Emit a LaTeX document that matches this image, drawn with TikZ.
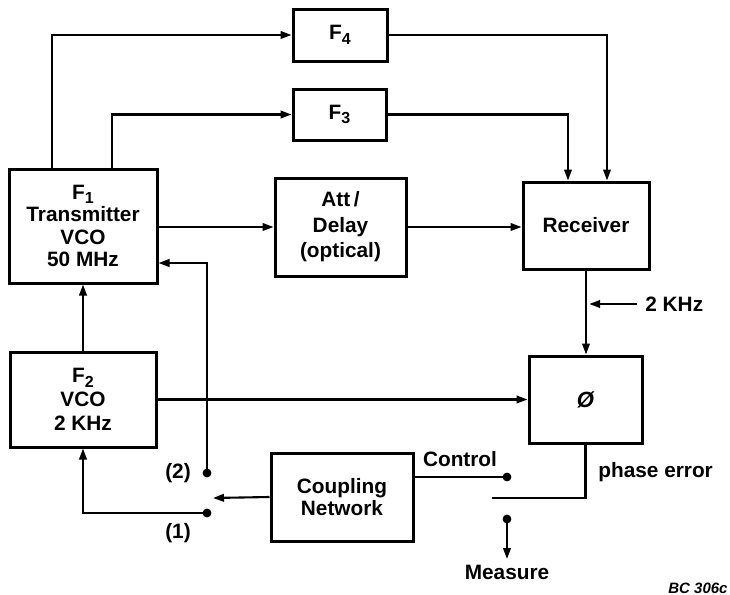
\documentclass[tikz,border=0pt]{standalone}
\usepackage{fontspec}
\setmainfont{Liberation Sans}
\usetikzlibrary{arrows.meta}
\newcommand{\sbs}[1]{\raisebox{-0.4ex}{\fontsize{8}{8}\selectfont #1}}
\begin{document}
\begin{tikzpicture}[x=0.5pt,y=-0.5pt,
  blk/.style={draw, line width=1.5pt, rectangle, align=center, inner sep=0pt,
    font=\fontsize{10.4}{11.2}\selectfont\bfseries},
  conn/.style={line width=1.05pt},
  arr/.style={conn, -{Triangle[length=5.5pt,width=3.8pt]}},
  lbl/.style={font=\fontsize{10.4}{11.2}\selectfont\bfseries, inner sep=0pt},
  dot/.style={fill, radius=2.2pt}]
\useasboundingbox (0,0) rectangle (730,595);

% blocks
\node[blk, minimum width=74pt, minimum height=57pt] (F1) at (83,226)
  {F\sbs{1}\\Transmitter\\VCO\\50 MHz};
\node[blk, minimum width=65.5pt, minimum height=49pt,
  font=\fontsize{10.4}{12.7}\selectfont\bfseries] (Att) at (340.5,227)
  {Att\,/\\Delay\\(optical)};
\node[blk, minimum width=63pt, minimum height=43.5pt] (Rec) at (586,225.5) {Receiver};
\node[blk, minimum width=56.5pt, minimum height=43.5pt] (Phi) at (585.5,399.5)
  {\fontsize{11}{11}\selectfont\itshape Ø};
\node[blk, minimum width=47pt, minimum height=26pt] (F4) at (340,35) {F\sbs{4}};
\node[blk, minimum width=46.5pt, minimum height=25.5pt] (F3) at (339.5,114.5) {F\sbs{3}};
\node[blk, minimum width=73pt, minimum height=47.5pt,
  font=\fontsize{10.4}{12}\selectfont\bfseries] (F2) at (83,399.5)
  {F\sbs{2}\\VCO\\2 KHz};
\node[blk, minimum width=71pt, minimum height=44pt] (Cpl) at (342,497)
  {Coupling\\Network};

% helper coordinates
\coordinate (xa) at (52,0);
\coordinate (xb) at (112,0);
\coordinate (xc) at (568,0);
\coordinate (xd) at (607,0);
\coordinate (yf) at (0,263);
\coordinate (s2) at (207,473);
\coordinate (s1) at (207,513);
\coordinate (sc) at (213,498);
\coordinate (ctl) at (507,477);
\coordinate (arm) at (492,498);
\coordinate (ms) at (507,519);
\coordinate (mend) at (507,559);
\coordinate (k2) at (637,304);

% connectors
\draw[arr] (F1.north -| xa) |- (F4.west);
\draw[arr] (F1.north -| xb) |- (F3.west);
\draw[arr] (F4.east) -| (Rec.north -| xd);
\draw[arr] (F3.east) -| (Rec.north -| xc);
\draw[arr] (F1.east |- Att.west) -- (Att.west);
\draw[arr] (Att.east) -- (Att.east -| Rec.west);
\draw[arr] (Rec.south) -- (Rec.south |- Phi.north);
\draw[arr, shorten >=1.6pt] (k2) -- (k2 -| Rec.south);
\draw[arr] (F2.north) -- (F1.south);
\draw[arr] (F2.east) -- (F2.east -| Phi.west);
\draw[arr] (s2) |- (F1.east |- yf);
\draw[arr] (s1) -| (F2.south);
\draw[arr] (Cpl.west) -- (sc);
\draw[conn] (Cpl.east |- ctl) -- (ctl);
\draw[conn] (Phi.south) |- (arm);
\draw[arr] (ms) -- (mend);

% dots
\fill[dot] (s2) circle;
\fill[dot] (s1) circle;
\fill[dot] (ctl) circle;
\fill[dot] (ms) circle;

% labels
\node[lbl, anchor=west] (l2k) at (645,304) {2 KHz};
\node[lbl] (lctl) at (460,459) {Control};
\node[lbl, anchor=west] (lpe) at (598,472) {phase error};
\node[lbl] (lmeas) at (507,572) {Measure};
\node[lbl] (lp2) at (178,473) {(2)};
\node[lbl] (lp1) at (178,533) {(1)};
\node[lbl, font=\fontsize{7.5}{8}\selectfont\bfseries\itshape] (lbc) at (698,588) {BC 306c};
\end{tikzpicture}
\end{document}
